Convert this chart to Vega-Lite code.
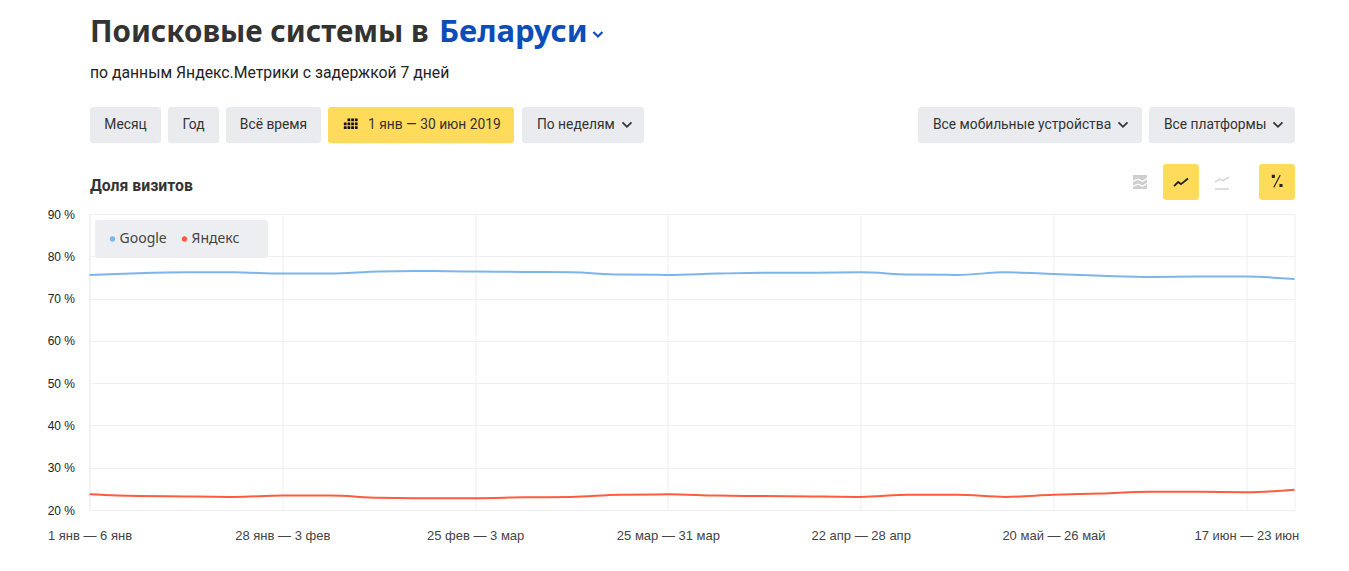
{"$schema":"https://vega.github.io/schema/vega-lite/v6.json","width":1205,"height":296,"autosize":"none","padding":{"left":89.5,"top":214,"right":54.5,"bottom":61},"background":"#ffffff","config":{"view":{"stroke":"#efefef"},"text":{"font":"Roboto","fontSize":13.8,"color":"#333333"},"point":{"opacity":1}},"layer":[
{"data":{"values":[{"control":"legend"}]},"mark":{"type":"rect","fill":"#edeef2","cornerRadius":3},"encoding":{"x":{"datum":0.114},"x2":{"datum":3.703},"y":{"datum":88.58},"y2":{"datum":79.59}}},
{"data":{"name":"series","values":[
{"n":0,"engine":"Google","share":75.6},{"n":1,"engine":"Google","share":76.0},{"n":2,"engine":"Google","share":76.2},{"n":3,"engine":"Google","share":76.2},{"n":4,"engine":"Google","share":75.9},{"n":5,"engine":"Google","share":75.9},{"n":6,"engine":"Google","share":76.4},{"n":7,"engine":"Google","share":76.5},{"n":8,"engine":"Google","share":76.4},{"n":9,"engine":"Google","share":76.3},{"n":10,"engine":"Google","share":76.2},{"n":11,"engine":"Google","share":75.7},{"n":12,"engine":"Google","share":75.6},{"n":13,"engine":"Google","share":75.9},{"n":14,"engine":"Google","share":76.1},{"n":15,"engine":"Google","share":76.1},{"n":16,"engine":"Google","share":76.2},{"n":17,"engine":"Google","share":75.7},{"n":18,"engine":"Google","share":75.6},{"n":19,"engine":"Google","share":76.2},{"n":20,"engine":"Google","share":75.8},{"n":21,"engine":"Google","share":75.4},{"n":22,"engine":"Google","share":75.1},{"n":23,"engine":"Google","share":75.2},{"n":24,"engine":"Google","share":75.2},{"n":25,"engine":"Google","share":74.6},
{"n":0,"engine":"Яндекс","share":23.7},{"n":1,"engine":"Яндекс","share":23.3},{"n":2,"engine":"Яндекс","share":23.2},{"n":3,"engine":"Яндекс","share":23.1},{"n":4,"engine":"Яндекс","share":23.4},{"n":5,"engine":"Яндекс","share":23.4},{"n":6,"engine":"Яндекс","share":22.9},{"n":7,"engine":"Яндекс","share":22.8},{"n":8,"engine":"Яндекс","share":22.8},{"n":9,"engine":"Яндекс","share":23.0},{"n":10,"engine":"Яндекс","share":23.1},{"n":11,"engine":"Яндекс","share":23.6},{"n":12,"engine":"Яндекс","share":23.7},{"n":13,"engine":"Яндекс","share":23.4},{"n":14,"engine":"Яндекс","share":23.3},{"n":15,"engine":"Яндекс","share":23.2},{"n":16,"engine":"Яндекс","share":23.1},{"n":17,"engine":"Яндекс","share":23.6},{"n":18,"engine":"Яндекс","share":23.6},{"n":19,"engine":"Яндекс","share":23.1},{"n":20,"engine":"Яндекс","share":23.6},{"n":21,"engine":"Яндекс","share":23.9},{"n":22,"engine":"Яндекс","share":24.3},{"n":23,"engine":"Яндекс","share":24.3},{"n":24,"engine":"Яндекс","share":24.2},{"n":25,"engine":"Яндекс","share":24.8}]},
"mark":{"type":"line","strokeWidth":2,"interpolate":"monotone"},
"encoding":{"x":{"field":"n","type":"quantitative","scale":{"domain":[0,25],"nice":false,"zero":false},"title":null,"axis":{"values":[0,4,8,12,16,20,24],"grid":true,"gridColor":"#efefef","domain":false,"ticks":false,"labelPadding":19,"labelFont":"Liberation Sans","labelFontSize":13,"labelColor":"#444444","labelOverlap":false,"labelBound":false,"labelFlush":false,"labelExpr":"['1 янв — 6 янв','28 янв — 3 фев','25 фев — 3 мар','25 мар — 31 мар','22 апр — 28 апр','20 май — 26 май','17 июн — 23 июн'][datum.value/4]"}},
"y":{"field":"share","type":"quantitative","scale":{"domain":[20,90],"nice":false,"zero":false},"title":null,"axis":{"values":[20,30,40,50,60,70,80,90],"grid":true,"gridColor":"#efefef","domain":false,"ticks":false,"labelPadding":15,"labelFont":"Liberation Sans","labelFontSize":12,"labelColor":"#222222","labelExpr":"datum.value + ' %'"}},
"color":{"field":"engine","type":"nominal","scale":{"domain":["Google","Яндекс"],"range":["#7cb5ec","#ff5c3e"]},"legend":{"title":null,"orient":"none","legendX":16,"legendY":18,"direction":"horizontal","symbolType":"circle","symbolSize":8,"symbolStrokeWidth":2.5,"labelFont":"Noto Sans","labelFontSize":14,"labelColor":"#444444","columnPadding":10,"labelOffset":0}}}},
{"data":{"values":[{"control":"Месяц"}]},"mark":{"type":"rect","fill":"#e9ebee","cornerRadius":3},"encoding":{"x":{"datum":0.01},"x2":{"datum":1.483},"y":{"datum":115.31},"y2":{"datum":106.75}}},
{"data":{"values":[{"control":"Год"}]},"mark":{"type":"rect","fill":"#e9ebee","cornerRadius":3},"encoding":{"x":{"datum":1.628},"x2":{"datum":2.686},"y":{"datum":115.31},"y2":{"datum":106.75}}},
{"data":{"values":[{"control":"Всё время"}]},"mark":{"type":"rect","fill":"#e9ebee","cornerRadius":3},"encoding":{"x":{"datum":2.832},"x2":{"datum":4.803},"y":{"datum":115.31},"y2":{"datum":106.75}}},
{"data":{"values":[{"control":"Даты"}]},"mark":{"type":"rect","fill":"#ffdb5c","cornerRadius":3},"encoding":{"x":{"datum":4.948},"x2":{"datum":8.807},"y":{"datum":115.31},"y2":{"datum":106.75}}},
{"data":{"values":[{"control":"По неделям"}]},"mark":{"type":"rect","fill":"#e9ebee","cornerRadius":3},"encoding":{"x":{"datum":8.973},"x2":{"datum":11.504},"y":{"datum":115.31},"y2":{"datum":106.75}}},
{"data":{"values":[{"control":"Устройства"}]},"mark":{"type":"rect","fill":"#e9ebee","cornerRadius":3},"encoding":{"x":{"datum":17.188},"x2":{"datum":21.836},"y":{"datum":115.31},"y2":{"datum":106.75}}},
{"data":{"values":[{"control":"Платформы"}]},"mark":{"type":"rect","fill":"#e9ebee","cornerRadius":3},"encoding":{"x":{"datum":21.981},"x2":{"datum":25.01},"y":{"datum":115.31},"y2":{"datum":106.75}}},
{"data":{"values":[{"control":"Линии"}]},"mark":{"type":"rect","fill":"#ffdb5c","cornerRadius":3},"encoding":{"x":{"datum":22.271},"x2":{"datum":23.018},"y":{"datum":101.82},"y2":{"datum":93.31}}},
{"data":{"values":[{"control":"Проценты"}]},"mark":{"type":"rect","fill":"#ffdb5c","cornerRadius":3},"encoding":{"x":{"datum":24.263},"x2":{"datum":25.01},"y":{"datum":101.82},"y2":{"datum":93.31}}},
{"data":{"values":[{"label":"Поисковые системы в"}]},"mark":{"type":"text","align":"left","baseline":"middle","fontSize":29.6,"fontWeight":"bold","font":"Noto Sans","color":"#333333"},"encoding":{"text":{"field":"label"},"x":{"datum":0.01},"y":{"datum":132.8}}},
{"data":{"values":[{"label":"Беларуси"}]},"mark":{"type":"text","align":"left","baseline":"middle","fontSize":31,"fontWeight":"bold","font":"Noto Sans","color":"#0c4db8"},"encoding":{"text":{"field":"label"},"x":{"datum":7.25},"y":{"datum":132.8}}},
{"data":{"values":[{"label":"по данным Яндекс.Метрики с задержкой 7 дней"}]},"mark":{"type":"text","align":"left","baseline":"middle","fontSize":15.75,"font":"Roboto","color":"#222222"},"encoding":{"text":{"field":"label"},"x":{"datum":0.01},"y":{"datum":123.37}}},
{"data":{"values":[{"label":"Доля визитов"}]},"mark":{"type":"text","align":"left","baseline":"middle","fontSize":15.8,"fontWeight":"bold","font":"Roboto","color":"#333333"},"encoding":{"text":{"field":"label"},"x":{"datum":0.01},"y":{"datum":96.62}}},
{"data":{"values":[{"label":"Месяц"}]},"mark":{"type":"text","align":"center","baseline":"middle"},"encoding":{"text":{"field":"label"},"x":{"datum":0.747},"y":{"datum":111.16}}},
{"data":{"values":[{"label":"Год"}]},"mark":{"type":"text","align":"center","baseline":"middle"},"encoding":{"text":{"field":"label"},"x":{"datum":2.157},"y":{"datum":111.16}}},
{"data":{"values":[{"label":"Всё время"}]},"mark":{"type":"text","align":"center","baseline":"middle"},"encoding":{"text":{"field":"label"},"x":{"datum":3.817},"y":{"datum":111.16}}},
{"data":{"values":[{"label":"1 янв — 30 июн 2019"}]},"mark":{"type":"text","align":"left","baseline":"middle"},"encoding":{"text":{"field":"label"},"x":{"datum":5.778},"y":{"datum":111.16}}},
{"data":{"values":[{"label":"По неделям"}]},"mark":{"type":"text","align":"left","baseline":"middle"},"encoding":{"text":{"field":"label"},"x":{"datum":9.284},"y":{"datum":111.16}}},
{"data":{"values":[{"label":"Все мобильные устройства"}]},"mark":{"type":"text","align":"left","baseline":"middle"},"encoding":{"text":{"field":"label"},"x":{"datum":17.5},"y":{"datum":111.16}}},
{"data":{"values":[{"label":"Все платформы"}]},"mark":{"type":"text","align":"left","baseline":"middle"},"encoding":{"text":{"field":"label"},"x":{"datum":22.292},"y":{"datum":111.16}}},
{"data":{"values":[{"icon":"chevron"}]},"mark":{"type":"point","filled":false,"opacity":1,"shape":"M-1,-0.5L0,0.5L1,-0.5","size":81,"stroke":"#333333","strokeWidth":1.8},"encoding":{"x":{"datum":11.151},"y":{"datum":111.16}}},
{"data":{"values":[{"icon":"chevron"}]},"mark":{"type":"point","filled":false,"opacity":1,"shape":"M-1,-0.5L0,0.5L1,-0.5","size":81,"stroke":"#333333","strokeWidth":1.8},"encoding":{"x":{"datum":21.442},"y":{"datum":111.16}}},
{"data":{"values":[{"icon":"chevron"}]},"mark":{"type":"point","filled":false,"opacity":1,"shape":"M-1,-0.5L0,0.5L1,-0.5","size":81,"stroke":"#333333","strokeWidth":1.8},"encoding":{"x":{"datum":24.657},"y":{"datum":111.16}}},
{"data":{"values":[{"icon":"chevron"}]},"mark":{"type":"point","filled":false,"opacity":1,"shape":"M-1,-0.5L0,0.5L1,-0.5","size":81,"stroke":"#0c4db8","strokeWidth":2.2},"encoding":{"x":{"datum":10.549},"y":{"datum":132.52}}},
{"data":{"values":[{"icon":"calendar"}]},"mark":{"type":"point","filled":true,"opacity":1,"shape":"M-0.4,-1h0.45v0.45h-0.45zM0.2,-1h0.45v0.45h-0.45zM0.8,-1h0.45v0.45h-0.45zM-1,-0.35h0.45v0.45h-0.45zM-0.4,-0.35h0.45v0.45h-0.45zM0.2,-0.35h0.45v0.45h-0.45zM0.8,-0.35h0.45v0.45h-0.45zM-1,0.3h0.45v0.45h-0.45zM-0.4,0.3h0.45v0.45h-0.45zM0.2,0.3h0.45v0.45h-0.45zM0.8,0.3h0.45v0.45h-0.45z","size":150,"fill":"#111111","strokeWidth":0},"encoding":{"x":{"datum":5.404},"y":{"datum":111.16}}},
{"data":{"values":[{"icon":"stack"}]},"mark":{"type":"point","filled":true,"opacity":1,"shape":"M-1,-1H1V-0.6L0.4,-0.2L-0.3,-0.5L-1,-0.2ZM-1,0L-0.3,-0.3L0.4,0L1,-0.4V0.1L0.4,0.5L-0.3,0.2L-1,0.5ZM-1,0.7L-0.3,0.4L0.4,0.7L1,0.3V1H-1Z","size":196,"fill":"#cfcfcf","strokeWidth":0},"encoding":{"x":{"datum":21.794},"y":{"datum":97.57}}},
{"data":{"values":[{"icon":"lines"}]},"mark":{"type":"point","filled":false,"opacity":1,"shape":"M-1,0.6L-0.4,0L0,0.3L1,-0.5","size":196,"stroke":"#222222","strokeWidth":1.8},"encoding":{"x":{"datum":22.645},"y":{"datum":97.57}}},
{"data":{"values":[{"icon":"separate"}]},"mark":{"type":"point","filled":false,"opacity":1,"shape":"M-1,0L-0.3,-0.4L0.1,-0.2L1,-0.7M-1,1H1","size":196,"stroke":"#d4d4d4","strokeWidth":1.5},"encoding":{"x":{"datum":23.495},"y":{"datum":97.57}}},
{"data":{"values":[{"icon":"percent"}]},"mark":{"type":"point","filled":true,"opacity":1,"shape":"M-0.85,-1h0.5v0.5h-0.5zM0.4,0.5h0.5v0.5h-0.5zM-0.6,1L0.45,-1L0.6,-0.9L-0.45,1.1Z","size":150,"fill":"#222222","strokeWidth":0},"encoding":{"x":{"datum":24.637},"y":{"datum":97.81}}}
]}
